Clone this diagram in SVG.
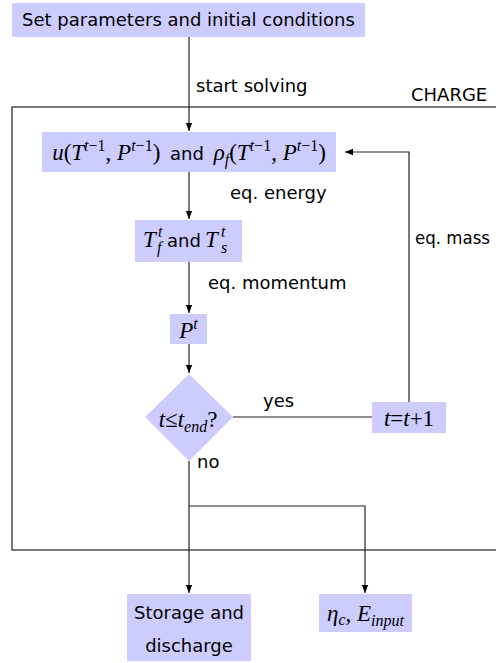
<svg xmlns="http://www.w3.org/2000/svg" width="496" height="663" viewBox="0 0 496 663">
<style>
.box{fill:#ccccff;stroke:none}
.ln{fill:none;stroke:#222;stroke-width:1.2}
.s{font-family:"DejaVu Sans",sans-serif;font-size:18px;fill:#000}
.m{font-family:"Liberation Serif",serif;font-size:23px;fill:#000}
.i{font-style:italic}
.sup{font-size:16px}
</style>
<defs>
<marker id="ah" viewBox="0 0 10 10" refX="10" refY="5" markerWidth="8" markerHeight="8" markerUnits="userSpaceOnUse" orient="auto">
<path d="M0,1 L10,5 L0,9 z" fill="#000"/>
</marker>
</defs>
<rect id="frame" x="12" y="107" width="490" height="443" fill="none" stroke="#222" stroke-width="1.2"/>
<text class="s" x="411" y="101">CHARGE</text>
<g id="connectors">
<line class="ln" x1="189" y1="37" x2="189" y2="131" marker-end="url(#ah)"/>
<line class="ln" x1="189" y1="172" x2="189" y2="219" marker-end="url(#ah)"/>
<line class="ln" x1="189" y1="262" x2="189" y2="313" marker-end="url(#ah)"/>
<line class="ln" x1="189" y1="344" x2="189" y2="373" marker-end="url(#ah)"/>
<line class="ln" x1="233" y1="417" x2="372" y2="417"/>
<polyline class="ln" points="409,402 409,152 345,152" marker-end="url(#ah)"/>
<line class="ln" x1="189" y1="461" x2="189" y2="593" marker-end="url(#ah)"/>
<polyline class="ln" points="189,506 365,506 365,593" marker-end="url(#ah)"/>
<text class="s" x="196" y="92">start solving</text>
<text class="s" x="230" y="199">eq. energy</text>
<text class="s" x="208" y="289">eq. momentum</text>
<text class="s" x="415" y="244" textLength="75" lengthAdjust="spacingAndGlyphs">eq. mass</text>
<text class="s" x="263" y="407">yes</text>
<text class="s" x="197" y="468">no</text>
</g>
<g id="n-start">
<rect class="box" x="12" y="3" width="353" height="34"/>
<text class="s" x="188.5" y="26" text-anchor="middle">Set parameters and initial conditions</text>
</g>
<g id="n-u">
<rect class="box" x="42" y="132" width="294" height="40"/>
<text class="m" x="189" y="160" text-anchor="middle"><tspan class="i">u</tspan>(<tspan class="i">T</tspan><tspan class="sup" dy="-9"><tspan class="i">t</tspan>−1</tspan><tspan dy="9">, </tspan><tspan class="i">P</tspan><tspan class="sup" dy="-9"><tspan class="i">t</tspan>−1</tspan><tspan dy="9">) </tspan><tspan class="s" dx="4">and</tspan> <tspan class="i" dx="4">ρ</tspan><tspan class="sup i" dy="5">f</tspan><tspan dy="-5">(</tspan><tspan class="i">T</tspan><tspan class="sup" dy="-9"><tspan class="i">t</tspan>−1</tspan><tspan dy="9">, </tspan><tspan class="i">P</tspan><tspan class="sup" dy="-9"><tspan class="i">t</tspan>−1</tspan><tspan dy="9">)</tspan></text>
</g>
<g id="n-T">
<rect class="box" x="135" y="220" width="107" height="42"/>
<text class="m i" x="143" y="247">T</text>
<text class="m i sup" x="158" y="237">t</text>
<text class="m i sup" x="157" y="253">f</text>
<text class="s" x="167" y="247">and</text>
<text class="m i" x="205" y="247">T</text>
<text class="m i sup" x="221" y="237">t</text>
<text class="m i sup" x="221" y="253">s</text>
</g>
<g id="n-P">
<rect class="box" x="170" y="314" width="37" height="30"/>
<text class="m i" x="188.5" y="338" text-anchor="middle">P<tspan class="sup" dy="-9">t</tspan></text>
</g>
<g id="n-dec">
<polygon class="box" points="189,374 233,417 189,461 145,417"/>
<text class="m" x="188" y="427" text-anchor="middle"><tspan class="i">t</tspan>≤<tspan class="i">t</tspan><tspan class="sup i" dy="5">end</tspan><tspan dy="-5">?</tspan></text>
</g>
<g id="n-inc">
<rect class="box" x="372" y="402" width="74" height="31"/>
<text class="m" x="409" y="426" text-anchor="middle"><tspan class="i">t</tspan>=<tspan class="i">t</tspan>+1</text>
</g>
<g id="n-storage">
<rect class="box" x="127" y="594" width="124" height="67"/>
<text class="s" x="189" y="619" text-anchor="middle">Storage and</text>
<text class="s" x="189" y="652" text-anchor="middle">discharge</text>
</g>
<g id="n-eta">
<rect class="box" x="319" y="594" width="93" height="38"/>
<text class="m" x="365.5" y="621" text-anchor="middle"><tspan class="i">η</tspan><tspan class="sup i" dy="4">c</tspan><tspan dy="-4">, </tspan><tspan class="i">E</tspan><tspan class="sup i" dy="5">input</tspan></text>
</g>
</svg>
